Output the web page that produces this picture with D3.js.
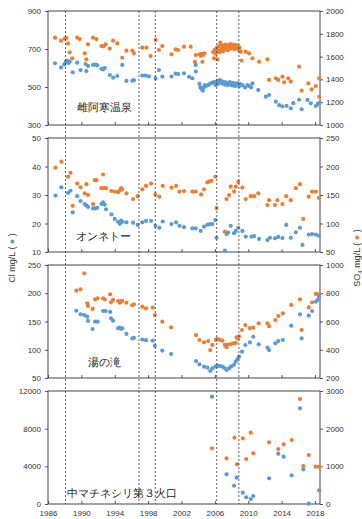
<!DOCTYPE html>
<html>
<head>
<meta charset="utf-8">
<script src="https://cdn.jsdelivr.net/npm/d3@7"></script>
<style>
  body { margin: 0; background: #fff; }
  svg text { font-family: "Liberation Sans", Arial, sans-serif; }
</style>
</head>
<body>
<div id="chart"></div>
<script>
// eruption dates (dashed lines)
const eruptions = [1988.1, 1996.9, 1998.86, 2006.22, 2008.88];
const yearTicks = [1986, 1990, 1994, 1998, 2002, 2006, 2010, 2014, 2018];

// 雌阿寒温泉  [year, mg/L]
const onsenCl = [[1986.84,625],[1987.56,602],[1987.95,619],[1988.15,634],[1988.3,638],[1988.45,626],[1988.6,634],[1988.96,577],[1989.5,628],[1989.9,589],[1990.5,621],[1990.6,584],[1990.8,611],[1991.4,616],[1991.7,618],[1991.9,614],[1992.4,596],[1992.6,592],[1992.8,600],[1993.4,563],[1993.8,549],[1994.3,558],[1994.9,616],[1995.4,532],[1996.1,533],[1996.3,536],[1997.3,560],[1997.7,560],[1998.1,556],[1998.9,545],[1999.3,589],[1999.7,555],[2000.8,555],[2001.3,570],[2001.6,568],[2002.3,572],[2002.9,554],[2003.3,546],[2003.7,616],[2003.72,581],[2004.15,516],[2004.27,498],[2004.43,488],[2004.55,481],[2004.67,498],[2004.82,510],[2004.94,505],[2005.2,510],[2005.4,516],[2005.6,521],[2005.85,526],[2006.0,520],[2006.1,510],[2006.2,528],[2006.3,515],[2006.4,532],[2006.5,522],[2006.6,536],[2006.7,525],[2006.8,530],[2006.9,518],[2007.0,527],[2007.1,520],[2007.2,513],[2007.3,524],[2007.4,517],[2007.5,510],[2007.6,521],[2007.7,514],[2007.8,526],[2007.9,512],[2008.0,519],[2008.1,508],[2008.2,522],[2008.3,513],[2008.4,505],[2008.5,518],[2008.6,509],[2008.7,521],[2008.8,512],[2008.9,504],[2009.0,516],[2009.3,510],[2009.6,498],[2009.9,510],[2010.1,505],[2010.35,498],[2010.5,519],[2011.2,484],[2012.1,449],[2012.5,458],[2013.3,423],[2013.7,405],[2014.1,398],[2014.6,401],[2015.1,388],[2015.4,415],[2016.1,433],[2016.4,383],[2017.1,432],[2017.5,414],[2018.1,400],[2018.35,411],[2018.55,417]];
const onsenSO4 = [[1986.84,1766],[1987.56,1740],[1988.0,1757],[1988.2,1763],[1988.4,1716],[1988.6,1638],[1988.9,1585],[1989.5,1766],[1989.8,1754],[1990.4,1629],[1990.6,1576],[1990.8,1708],[1991.4,1766],[1991.8,1754],[1992.4,1693],[1992.65,1690],[1992.9,1708],[1993.4,1670],[1993.8,1740],[1994.3,1716],[1994.9,1590],[1995.4,1652],[1996.1,1652],[1996.3,1629],[1997.3,1678],[1997.8,1678],[1998.3,1605],[1998.9,1746],[1999.3,1658],[1999.7,1693],[2000.8,1620],[2001.3,1664],[2001.6,1658],[2002.3,1687],[2003.1,1687],[2003.6,1555],[2003.7,1614],[2004.15,1620],[2004.3,1607],[2004.4,1625],[2004.5,1555],[2004.6,1615],[2004.75,1629],[2005.8,1640],[2005.9,1585],[2006.0,1660],[2006.1,1625],[2006.2,1675],[2006.3,1576],[2006.35,1650],[2006.45,1690],[2006.55,1640],[2006.65,1722],[2006.75,1665],[2006.85,1700],[2006.95,1645],[2007.05,1690],[2007.15,1660],[2007.25,1705],[2007.35,1675],[2007.45,1695],[2007.55,1655],[2007.65,1700],[2007.75,1680],[2007.85,1710],[2007.95,1670],[2008.05,1695],[2008.15,1685],[2008.25,1705],[2008.35,1665],[2008.45,1690],[2008.55,1700],[2008.65,1675],[2008.75,1690],[2008.85,1660],[2008.95,1680],[2009.1,1643],[2009.2,1565],[2009.7,1643],[2010.1,1629],[2010.5,1585],[2011.3,1555],[2012.3,1576],[2012.5,1395],[2013.3,1409],[2013.6,1395],[2014.1,1424],[2014.3,1374],[2014.8,1409],[2015.1,1380],[2016.1,1512],[2016.4,1301],[2017.2,1365],[2017.6,1313],[2018.1,1342],[2018.5,1409],[2018.52,1248]];

// オンネトー
const onnetoCl = [[1986.9,29.8],[1987.6,32.7],[1988.4,30.7],[1988.7,31.5],[1988.96,23.9],[1989.5,29.6],[1989.9,27.9],[1990.4,26.8],[1990.6,26.3],[1990.8,25.8],[1991.4,25.3],[1991.7,25.3],[1991.9,25.5],[1992.4,26.8],[1992.6,27.4],[1992.8,26.6],[1992.95,25.0],[1993.6,23.2],[1994.0,21.6],[1994.4,20.6],[1994.6,19.9],[1994.75,21.0],[1994.9,20.6],[1995.4,20.4],[1996.2,20.3],[1996.75,19.5],[1997.3,20.4],[1997.75,20.9],[1998.35,20.9],[1998.87,19.2],[1999.35,18.5],[1999.75,20.7],[2000.8,19.8],[2001.35,20.4],[2001.75,19.2],[2002.3,18.7],[2003.3,18.3],[2003.7,18.3],[2004.3,17.4],[2004.7,18.9],[2005.1,19.6],[2005.4,19.8],[2005.7,19.8],[2006.06,21.2],[2006.2,15.0],[2007.2,10.5],[2007.4,16.3],[2007.6,16.8],[2007.9,19.2],[2008.3,16.6],[2008.5,17.4],[2008.8,18.5],[2009.3,17.4],[2009.7,15.4],[2010.4,15.4],[2010.7,15.6],[2011.3,14.6],[2012.3,14.2],[2012.6,15.0],[2013.2,14.8],[2013.6,15.3],[2014.1,14.9],[2014.55,19.5],[2015.1,15.0],[2015.7,16.9],[2016.2,18.5],[2016.5,12.5],[2017.25,16.1],[2017.65,16.3],[2018.1,16.1],[2018.45,15.7]];
const onnetoSO4 = [[1986.9,198],[1987.6,208.5],[1988.4,182],[1988.7,189],[1988.96,131],[1989.5,170],[1989.9,163.5],[1990.4,153],[1990.6,169],[1990.8,150],[1991.4,134],[1991.6,176],[1991.8,176],[1992.4,162],[1992.6,186],[1992.7,162],[1992.95,162],[1993.6,157],[1994.0,156],[1994.4,155],[1994.6,158],[1994.75,162],[1994.9,160],[1995.4,153],[1996.2,143],[1996.75,148],[1997.3,160],[1997.75,166],[1998.35,170],[1998.87,151],[1999.35,147],[1999.75,166],[2000.8,163],[2001.35,166],[2001.75,156],[2002.3,157],[2003.3,156],[2003.7,156],[2004.35,151],[2004.7,160],[2005.1,172],[2005.35,174],[2005.6,175],[2006.06,182],[2006.2,127],[2007.2,85.6],[2007.4,143],[2007.7,150],[2007.9,164.6],[2008.3,156],[2008.5,164.6],[2008.8,173],[2009.3,163],[2009.7,143],[2010.3,148],[2010.7,148],[2011.2,153],[2012.3,132.5],[2012.5,141],[2013.2,132.5],[2013.5,141],[2014.1,134],[2014.55,148],[2015.1,141],[2015.7,162],[2016.2,169],[2016.6,108],[2017.25,147],[2017.65,156],[2018.1,156],[2018.45,145]];

// 湯の滝
const yunotakiCl = [[1989.4,169],[1989.9,162.7],[1990.35,161.5],[1990.7,158.5],[1990.8,151],[1991.35,136.7],[1991.65,149.7],[1991.95,149.7],[1992.6,168.6],[1992.9,168.6],[1993.45,167],[1993.55,155.6],[1993.8,151.4],[1994.4,138],[1994.6,139],[1994.75,137],[1994.9,138],[1995.4,128],[1996.1,120],[1996.3,121],[1997.3,118],[1997.75,117],[1998.55,116],[1998.8,107],[1999.7,98.5],[2000.75,92.5],[2003.75,80],[2004.15,74.2],[2004.7,70],[2005.1,68.3],[2005.45,62.4],[2005.7,67.2],[2006.1,70.5],[2006.35,72],[2006.6,71],[2006.9,70],[2007.2,67.2],[2007.4,64.2],[2007.7,67],[2007.95,70.5],[2008.3,73.4],[2008.5,79],[2008.7,83.6],[2008.9,87.7],[2009.25,96.6],[2009.65,108.4],[2010.2,113],[2010.6,123],[2011.25,109.6],[2012.3,103.6],[2012.5,99.5],[2013.25,111.4],[2013.6,115.5],[2014.15,117.3],[2015.15,142.6],[2016.2,162.7],[2016.4,120.2],[2017.25,160.3],[2017.65,168.6],[2018.1,185],[2018.3,188],[2018.5,194]];
const yunotakiSO4 = [[1989.4,818],[1989.9,828],[1990.35,941],[1990.7,729],[1990.8,710],[1991.35,689],[1991.65,757],[1991.95,764],[1992.6,764],[1992.8,757],[1993.45,793],[1993.55,736],[1993.8,754],[1994.4,745],[1994.6,733],[1994.75,743],[1994.9,747],[1995.4,733],[1996.1,715],[1996.3,722],[1997.3,705],[1997.75,693],[1998.55,698],[1998.8,646],[1999.7,599],[2000.75,559],[2003.75,504],[2004.15,469],[2004.7,453],[2005.2,462],[2005.45,398],[2005.7,434],[2006.1,470],[2006.3,478],[2006.6,470],[2006.9,465],[2007.2,434],[2007.4,418],[2007.5,436],[2007.9,440],[2008.2,446],[2008.5,448],[2008.6,487],[2008.75,480],[2008.9,495],[2009.25,540],[2009.65,575],[2010.2,553],[2010.6,556],[2011.25,587],[2012.3,587],[2012.5,567],[2013.25,610],[2013.6,639],[2014.15,658],[2015.15,717],[2016.2,757],[2016.4,540],[2017.25,700],[2017.65,736],[2018.1,795],[2018.3,793],[2018.5,790]];

// 中マチネシリ第３火口
const craterCl = [[2005.65,11400],[2007.4,3150],[2008.3,1945],[2008.6,2795],[2009.35,1200],[2009.75,710],[2010.3,530],[2010.6,850],[2012.5,2725],[2013.6,5345],[2014.25,5025],[2015.2,3045],[2016.2,10160],[2016.6,3685],[2017.25,35],[2018.5,1450]];
const craterSO4 = [[2005.65,1478],[2007.4,1212],[2008.35,1761],[2008.65,1053],[2009.35,1743],[2009.75,1195],[2010.3,1894],[2010.6,1345],[2012.5,1637],[2013.6,1460],[2014.25,1584],[2015.2,1699],[2016.2,2788],[2016.6,1009],[2017.25,1301],[2018.1,990],[2018.5,990]];

const panels = [
  { name: "雌阿寒温泉", cl: onsenCl, so4: onsenSO4, left: [300, 900], right: [1000, 2000], lt: [300, 500, 700, 900], rt: [1000, 1200, 1400, 1600, 1800, 2000], top: 11, bottom: 125, lx: 104, ly: 111 },
  { name: "オンネトー", cl: onnetoCl, so4: onnetoSO4, left: [10, 50], right: [50, 250], lt: [10, 20, 30, 40, 50], rt: [50, 100, 150, 200, 250], top: 138, bottom: 252, lx: 103, ly: 240 },
  { name: "湯の滝", cl: yunotakiCl, so4: yunotakiSO4, left: [50, 250], right: [200, 1000], lt: [50, 100, 150, 200, 250], rt: [200, 400, 600, 800, 1000], top: 265, bottom: 378, lx: 104, ly: 366 },
  { name: "中マチネシリ第３火口", cl: craterCl, so4: craterSO4, left: [0, 12000], right: [0, 3000], lt: [0, 4000, 8000, 12000], rt: [0, 1000, 2000, 3000], top: 391, bottom: 504, lx: 122, ly: 497 }
];

const W = 362, H = 519;
const blue = "#5b9bd5", orange = "#ed7d31";

const svg = d3.select("#chart").append("svg")
  .attr("width", W).attr("height", H);

const x = d3.scaleLinear().domain([1986, 2018.6]).range([48, 320]);

panels.forEach((p, i) => {
  const yL = d3.scaleLinear().domain(p.left).range([p.bottom, p.top]);
  const yR = d3.scaleLinear().domain(p.right).range([p.bottom, p.top]);
  const g = svg.append("g");

  // bottom inner ticks
  g.append("g").attr("transform", `translate(0,${p.bottom})`)
    .call(d3.axisBottom(x).tickValues(yearTicks).tickSize(-3).tickFormat(""))
    .call(a => a.select(".domain").remove())
    .call(a => a.selectAll("line").attr("stroke", "#555"));

  const left = g.append("g").attr("transform", "translate(48,0)")
    .call(d3.axisLeft(yL).tickValues(p.lt).tickSize(3).tickPadding(4).tickFormat(d3.format("d")));
  const right = g.append("g").attr("transform", "translate(320,0)")
    .call(d3.axisRight(yR).tickValues(p.rt).tickSize(3).tickPadding(3).tickFormat(d3.format("d")));
  [left, right].forEach(a => {
    a.select(".domain").remove();
    a.selectAll("line").attr("stroke", "#555");
    a.selectAll("text").attr("font-size", 8).attr("fill", "#333")
      .attr("font-family", "Liberation Sans, Arial, sans-serif");
  });

  g.append("rect")
    .attr("x", 48).attr("y", p.top)
    .attr("width", 320 - 48).attr("height", p.bottom - p.top)
    .attr("fill", "none").attr("stroke", "#444").attr("stroke-width", 1);

  g.selectAll(".so4").data(p.so4).join("circle")
    .attr("cx", d => x(d[0])).attr("cy", d => yR(d[1]))
    .attr("r", 2.1).attr("fill", orange);

  g.selectAll(".cl").data(p.cl).join("circle")
    .attr("cx", d => x(d[0])).attr("cy", d => yL(d[1]))
    .attr("r", 2.1).attr("fill", blue);

  g.append("text")
    .attr("x", p.lx).attr("y", p.ly)
    .attr("text-anchor", "middle")
    .attr("font-family", "Noto Sans CJK JP")
    .attr("font-size", 10.5).attr("fill", "#222")
    .text(p.name);
});

// dashed eruption lines
svg.append("g").selectAll("line").data(eruptions).join("line")
  .attr("x1", d => x(d)).attr("x2", d => x(d))
  .attr("y1", 11).attr("y2", 504)
  .attr("stroke", "#333").attr("stroke-width", 0.8)
  .attr("stroke-dasharray", "2,2");

// year labels
svg.append("g").attr("transform", "translate(0,504)")
  .call(d3.axisBottom(x).tickValues(yearTicks).tickSize(0).tickPadding(6).tickFormat(d3.format("d")))
  .call(a => a.select(".domain").remove())
  .call(a => a.selectAll("text").attr("font-size", 8).attr("fill", "#333")
    .attr("font-family", "Liberation Sans, Arial, sans-serif"));

// axis titles
const lt = svg.append("text")
  .attr("transform", "translate(15,258) rotate(-90)")
  .attr("text-anchor", "middle").attr("font-size", 9).attr("fill", "#333");
lt.append("tspan").text("Cl mg/L ( ");
lt.append("tspan").attr("fill", blue).text("●");
lt.append("tspan").text(" )");

const rt = svg.append("text")
  .attr("transform", "translate(360,258) rotate(-90)")
  .attr("text-anchor", "middle").attr("font-size", 9).attr("fill", "#333");
rt.append("tspan").text("SO");
rt.append("tspan").attr("font-size", 6).attr("dy", 2).text("4");
rt.append("tspan").attr("dy", -2).text(" mg/L ( ");
rt.append("tspan").attr("fill", orange).text("●");
rt.append("tspan").text(" )");
</script>
</body>
</html>
